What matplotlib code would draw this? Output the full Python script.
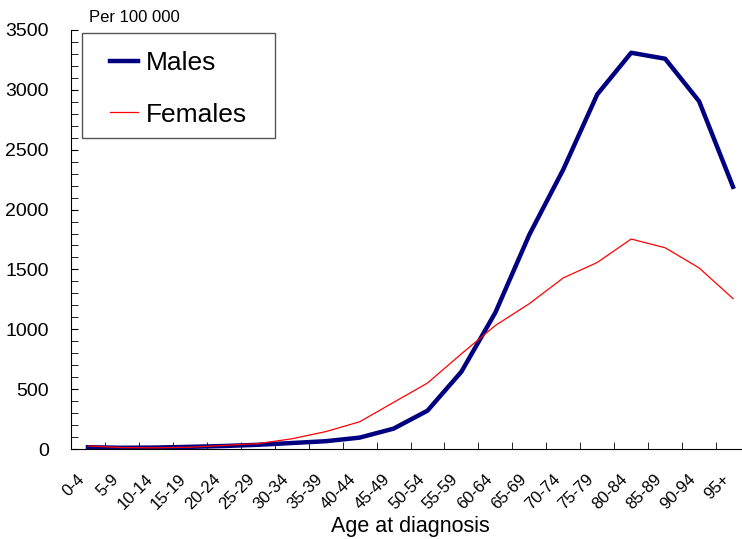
import matplotlib
matplotlib.use('Agg')
import matplotlib.pyplot as plt
from matplotlib.patches import Rectangle
from matplotlib.ticker import MultipleLocator
from matplotlib.transforms import ScaledTranslation

plt.rcParams['font.family'] = ['Liberation Sans', 'DejaVu Sans']

ages = ['0-4', '5-9', '10-14', '15-19', '20-24', '25-29', '30-34', '35-39',
        '40-44', '45-49', '50-54', '55-59', '60-64', '65-69', '70-74',
        '75-79', '80-84', '85-89', '90-94', '95+']
males = [15, 10, 12, 18, 25, 35, 50, 65, 95, 170, 320, 646, 1140, 1790,
         2335, 2962, 3310, 3260, 2905, 2190]
females = [25, 12, 10, 15, 30, 45, 85, 145, 227, 389, 551, 795, 1032, 1214,
           1429, 1558, 1754, 1681, 1513, 1256]

W, H = 742, 539
fig = plt.figure(figsize=(W / 100, H / 100), dpi=100)
# axis runs a bit past the right edge, like the original
ax = fig.add_axes([71 / W, 1 - 449 / H, (750 - 71) / W, (449 - 30) / H])

x = range(len(ages))
ax.plot(x, males, color='#000080', lw=3.2, label='Males')
ax.plot(x, females, color='red', lw=0.9, label='Females')

ax.set_xlim(-0.5, len(ages) - 0.5)
ax.set_ylim(0, 3500)
ax.yaxis.set_major_locator(MultipleLocator(500))
ax.yaxis.set_minor_locator(MultipleLocator(100))
ax.set_xticks([i + 0.5 for i in range(len(ages))], minor=True)
ax.set_xticks(list(x))
ax.set_xticklabels(ages, rotation=45, ha='right', rotation_mode='anchor', fontsize=12)
ax.tick_params(axis='x', which='major', length=0, pad=16)
ax.tick_params(axis='x', which='minor', direction='in', length=5)
ax.tick_params(axis='y', which='both', direction='in', length=5, labelsize=14, pad=16)

# nudge the slanted labels a little to the left
shift = ScaledTranslation(-0.11, 0, fig.dpi_scale_trans)
for lab in ax.get_xticklabels():
    lab.set_transform(lab.get_transform() + shift)

for s in ['top', 'right']:
    ax.spines[s].set_visible(False)

ax.set_xlabel('Age at diagnosis', fontsize=15.5, labelpad=3)

fig.text(89 / W, 1 - 18 / H, 'Per 100 000', fontsize=12, va='center', ha='left')

fig.patches.append(Rectangle((82 / W, 1 - 138 / H), (275 - 82) / W, (138 - 33) / H,
                             transform=fig.transFigure, fill=False,
                             edgecolor='#555555', lw=1))
fig.legend(loc='upper left', bbox_to_anchor=(110 / W, 1 - 51 / H), frameon=False,
           fontsize=19, handlelength=1.05, handletextpad=0.3, labelspacing=1.05,
           borderpad=0, borderaxespad=0)

fig.savefig('out.png', dpi=100)
